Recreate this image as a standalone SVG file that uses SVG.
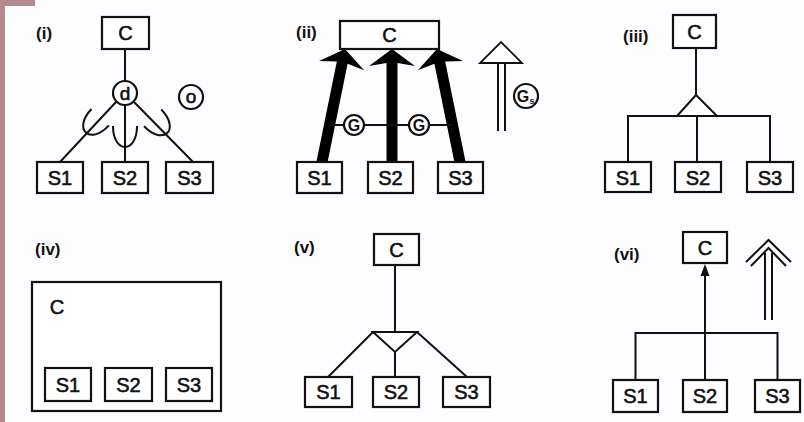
<svg xmlns="http://www.w3.org/2000/svg" width="804" height="422" viewBox="0 0 804 422">
<style>
.bx{fill:#fff;stroke:#111;stroke-width:2.2}
.ln{fill:none;stroke:#111;stroke-width:2}
.t{font-family:"Liberation Sans",Arial,sans-serif;font-size:20px;fill:#111;stroke:#111;stroke-width:0.6;text-anchor:middle}
.lb{font-family:"Liberation Sans",Arial,sans-serif;font-size:17px;font-weight:bold;fill:#111}
.sm{font-family:"Liberation Sans",Arial,sans-serif;font-size:16px;font-weight:bold;fill:#111;text-anchor:middle}
</style>
<defs>
<path id="cup" d="M-12,-12 C-12,16 12,16 12,-12" fill="none" stroke="#111" stroke-width="2"/>
<path id="fat" d="M0,0 L23,17 L5.5,14 L5.5,116 L-5.5,116 L-5.5,14 L-23,17 Z" fill="#000"/>
</defs>
<rect width="804" height="422" fill="#fdfcfe"/>
<rect x="0" y="0" width="5" height="422" fill="#b48a8e"/>
<rect x="0" y="0" width="35" height="6" fill="#b48a8e"/>

<!-- panel i -->
<g id="connectors-i">
<line class="ln" x1="125" y1="49" x2="125" y2="81"/>
<line class="ln" x1="116" y1="102" x2="60" y2="162"/>
<line class="ln" x1="125" y1="105" x2="125" y2="162"/>
<line class="ln" x1="134" y1="102" x2="193" y2="162"/>
<use href="#cup" transform="translate(125,138)"/>
<use href="#cup" transform="translate(92,126) rotate(43)"/>
<use href="#cup" transform="translate(161,126.5) rotate(-44)"/>
</g>
<text class="lb" x="36" y="39">(i)</text>
<g id="i-C"><rect class="bx" x="102" y="17" width="47" height="32"/><text class="t" x="125.5" y="40">C</text></g>
<g id="i-d"><circle cx="125" cy="93" r="12" fill="#fff" stroke="#111" stroke-width="2.2"/><text class="t" x="125" y="100" style="font-size:19px">d</text></g>
<g id="i-o"><circle cx="191" cy="97" r="12" fill="#fff" stroke="#111" stroke-width="2.2"/><text class="t" x="191" y="103" style="font-size:19px">o</text></g>
<g id="i-S1"><rect class="bx" x="37" y="162" width="46" height="31"/><text class="t" x="60" y="185">S1</text></g>
<g id="i-S2"><rect class="bx" x="102" y="162" width="46" height="31"/><text class="t" x="125" y="185">S2</text></g>
<g id="i-S3"><rect class="bx" x="166" y="162" width="47" height="31"/><text class="t" x="189.5" y="185">S3</text></g>

<!-- panel ii -->
<g id="connectors-ii">
<use href="#fat" transform="translate(345,49) rotate(11.5)"/>
<use href="#fat" transform="translate(392,49)"/>
<use href="#fat" transform="translate(437,49) rotate(-11.5)"/>
<line class="ln" x1="330" y1="125" x2="452" y2="125"/>
<line class="ln" x1="498" y1="62" x2="498" y2="131"/>
<line class="ln" x1="505" y1="62" x2="505" y2="131"/>
<polygon points="480,63 522,63 501,42" fill="#fff" stroke="#111" stroke-width="1.8"/>
</g>
<text class="lb" x="296" y="38">(ii)</text>
<g id="ii-C"><rect class="bx" x="340" y="21" width="99" height="28"/><text class="t" x="389.5" y="42">C</text></g>
<g id="ii-G1"><circle cx="354" cy="125" r="10" fill="#fff" stroke="#111" stroke-width="2.2"/><text class="sm" x="354" y="131">G</text></g>
<g id="ii-G2"><circle cx="419" cy="125" r="10" fill="#fff" stroke="#111" stroke-width="2.2"/><text class="sm" x="419" y="131">G</text></g>
<g id="ii-Gs"><circle cx="526" cy="96" r="12" fill="#fff" stroke="#111" stroke-width="2.2"/><text class="sm" x="523" y="102">G</text><text class="sm" x="532" y="104" style="font-size:9px">s</text></g>
<g id="ii-S1"><rect class="bx" x="297" y="162" width="45" height="31"/><text class="t" x="319.5" y="185">S1</text></g>
<g id="ii-S2"><rect class="bx" x="368" y="162" width="45" height="31"/><text class="t" x="390.5" y="185">S2</text></g>
<g id="ii-S3"><rect class="bx" x="438" y="162" width="45" height="31"/><text class="t" x="460.5" y="185">S3</text></g>

<!-- panel iii -->
<g id="connectors-iii">
<line class="ln" x1="696" y1="48" x2="696" y2="95"/>
<polygon points="696,95 677,116 717,116" fill="#fff" stroke="#111" stroke-width="2"/>
<polyline class="ln" points="628,162 628,116 770,116 770,162"/>
<line class="ln" x1="697" y1="116" x2="697" y2="162"/>
</g>
<text class="lb" x="623" y="42">(iii)</text>
<g id="iii-C"><rect class="bx" x="673" y="15" width="43" height="33"/><text class="t" x="694.5" y="39">C</text></g>
<g id="iii-S1"><rect class="bx" x="605" y="162" width="46" height="30"/><text class="t" x="628" y="184.5">S1</text></g>
<g id="iii-S2"><rect class="bx" x="675" y="162" width="46" height="30"/><text class="t" x="698" y="184.5">S2</text></g>
<g id="iii-S3"><rect class="bx" x="747" y="162" width="46" height="30"/><text class="t" x="770" y="184.5">S3</text></g>

<!-- panel iv -->
<text class="lb" x="35" y="255">(iv)</text>
<g id="iv-C"><rect class="bx" x="32" y="282" width="189" height="129"/><text class="t" x="57" y="314">C</text></g>
<g id="iv-S1"><rect class="bx" x="45" y="368" width="46" height="33"/><text class="t" x="68" y="392">S1</text></g>
<g id="iv-S2"><rect class="bx" x="105" y="368" width="47" height="33"/><text class="t" x="128.5" y="392">S2</text></g>
<g id="iv-S3"><rect class="bx" x="166" y="368" width="46" height="33"/><text class="t" x="189" y="392">S3</text></g>

<!-- panel v -->
<g id="connectors-v">
<line class="ln" x1="395" y1="265" x2="395" y2="332"/>
<polygon points="373,332 417,332 395,352" fill="#fff" stroke="#111" stroke-width="2"/>
<line class="ln" x1="373" y1="332" x2="328" y2="377"/>
<line class="ln" x1="395" y1="352" x2="395" y2="377"/>
<line class="ln" x1="417" y1="332" x2="467" y2="377"/>
</g>
<text class="lb" x="294" y="253">(v)</text>
<g id="v-C"><rect class="bx" x="374" y="234" width="45" height="31"/><text class="t" x="396.5" y="257">C</text></g>
<g id="v-S1"><rect class="bx" x="305" y="377" width="47" height="30"/><text class="t" x="328.5" y="399">S1</text></g>
<g id="v-S2"><rect class="bx" x="373" y="377" width="46" height="30"/><text class="t" x="396" y="399">S2</text></g>
<g id="v-S3"><rect class="bx" x="443" y="377" width="47" height="30"/><text class="t" x="466.5" y="399">S3</text></g>

<!-- panel vi -->
<g id="connectors-vi">
<line class="ln" x1="705" y1="380" x2="705" y2="274"/>
<polygon points="705,264 709.5,276 700.5,276" fill="#111"/>
<polyline class="ln" points="635.5,380 635.5,333 777.5,333 777.5,380"/>
<line class="ln" x1="765" y1="320" x2="765" y2="253"/>
<line class="ln" x1="772" y1="320" x2="772" y2="253"/>
<polyline points="746,262 768.5,240 791,262" fill="none" stroke="#111" stroke-width="2"/>
<polyline points="751,266 768.5,248 786,266" fill="none" stroke="#111" stroke-width="2"/>
</g>
<text class="lb" x="614" y="260">(vi)</text>
<g id="vi-C"><rect class="bx" x="683" y="232" width="44" height="31"/><text class="t" x="705" y="255">C</text></g>
<g id="vi-S1"><rect class="bx" x="613" y="380" width="45" height="32"/><text class="t" x="635.5" y="403">S1</text></g>
<g id="vi-S2"><rect class="bx" x="683" y="380" width="44" height="32"/><text class="t" x="705" y="403">S2</text></g>
<g id="vi-S3"><rect class="bx" x="755" y="380" width="45" height="32"/><text class="t" x="777.5" y="403">S3</text></g>
</svg>
